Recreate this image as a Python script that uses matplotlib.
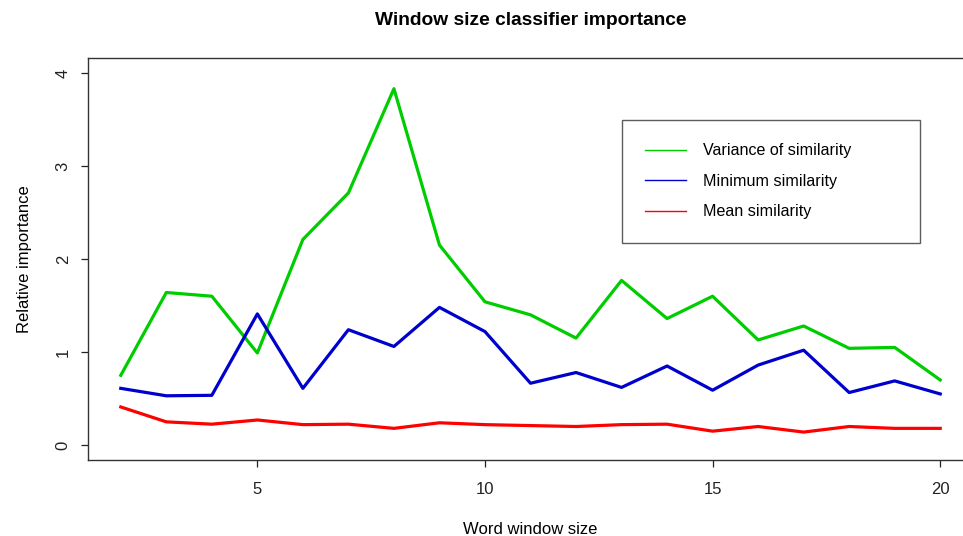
import matplotlib
matplotlib.use("Agg")
import matplotlib.pyplot as plt

plt.rcParams["font.family"] = ["Liberation Sans", "DejaVu Sans"]

# window sizes on the x axis
window_size = list(range(2, 21))

# relative importance of each feature
variance_sim = [0.75, 1.64, 1.60, 0.99, 2.21, 2.71, 3.83, 2.15, 1.54, 1.40,
                1.15, 1.77, 1.36, 1.60, 1.13, 1.28, 1.04, 1.05, 0.70]
minimum_sim = [0.61, 0.53, 0.535, 1.41, 0.61, 1.24, 1.06, 1.48, 1.22, 0.665,
               0.78, 0.62, 0.85, 0.59, 0.86, 1.02, 0.565, 0.69, 0.55]
mean_sim = [0.41, 0.25, 0.225, 0.27, 0.22, 0.225, 0.18, 0.24, 0.22, 0.21,
            0.20, 0.22, 0.225, 0.15, 0.20, 0.14, 0.20, 0.18, 0.18]

x_ticks = [5, 10, 15, 20]
y_ticks = [0, 1, 2, 3, 4]

W, H = 963, 536
fig = plt.figure(figsize=(W / 100, H / 100), dpi=100)
# axes box in pixels: left 88, right 973 (cut off), top 58, bottom 460
ax = fig.add_axes([88 / W, 1 - 460 / H, (973 - 88) / W, (460 - 58) / H])

ax.plot(window_size, variance_sim, color="#00CD00", lw=2.3)
ax.plot(window_size, minimum_sim, color="#0000CD", lw=2.3)
ax.plot(window_size, mean_sim, color="#FF0000", lw=2.3)

# R style 4% padding
xr = window_size[-1] - window_size[0]
ax.set_xlim(window_size[0] - 0.04 * xr, window_size[-1] + 0.04 * xr)
ax.set_ylim(-0.16, 4.16)

ax.set_xticks(x_ticks)
ax.set_yticks(y_ticks)
ax.set_yticklabels([str(v) for v in y_ticks], rotation=90, va="center")
ax.tick_params(direction="out", length=5, width=0.9, colors="#222222",
               labelsize=12)
ax.tick_params(axis="x", pad=11)
ax.tick_params(axis="y", pad=7.5)
for s in ax.spines.values():
    s.set_color("#333333")
    s.set_linewidth(1.0)

ax.set_title("Window size classifier importance", fontsize=13.8,
             fontweight="bold", pad=24)
ax.set_xlabel("Word window size", fontsize=12, labelpad=18)
ax.set_ylabel("Relative importance", fontsize=12, labelpad=17)

# legend (thin lines, like R's legend())
handles = [
    plt.Line2D([], [], color="#00CD00", lw=1),
    plt.Line2D([], [], color="#0000CD", lw=1),
    plt.Line2D([], [], color="#FF0000", lw=1),
]
labels = ["Variance of similarity", "Minimum similarity", "Mean similarity"]
leg = fig.legend(handles, labels, loc="upper left", mode="expand",
                 bbox_to_anchor=(622 / W, 1 - 241 / H, 298 / W, 121 / H),
                 fontsize=11.6, frameon=True, fancybox=False, shadow=False,
                 borderpad=1.45, labelspacing=0.96, handlelength=2.5,
                 handletextpad=1.1, borderaxespad=0)
leg.get_frame().set_edgecolor("#333333")
leg.get_frame().set_linewidth(1.0)

fig.savefig("out.png", dpi=100)
